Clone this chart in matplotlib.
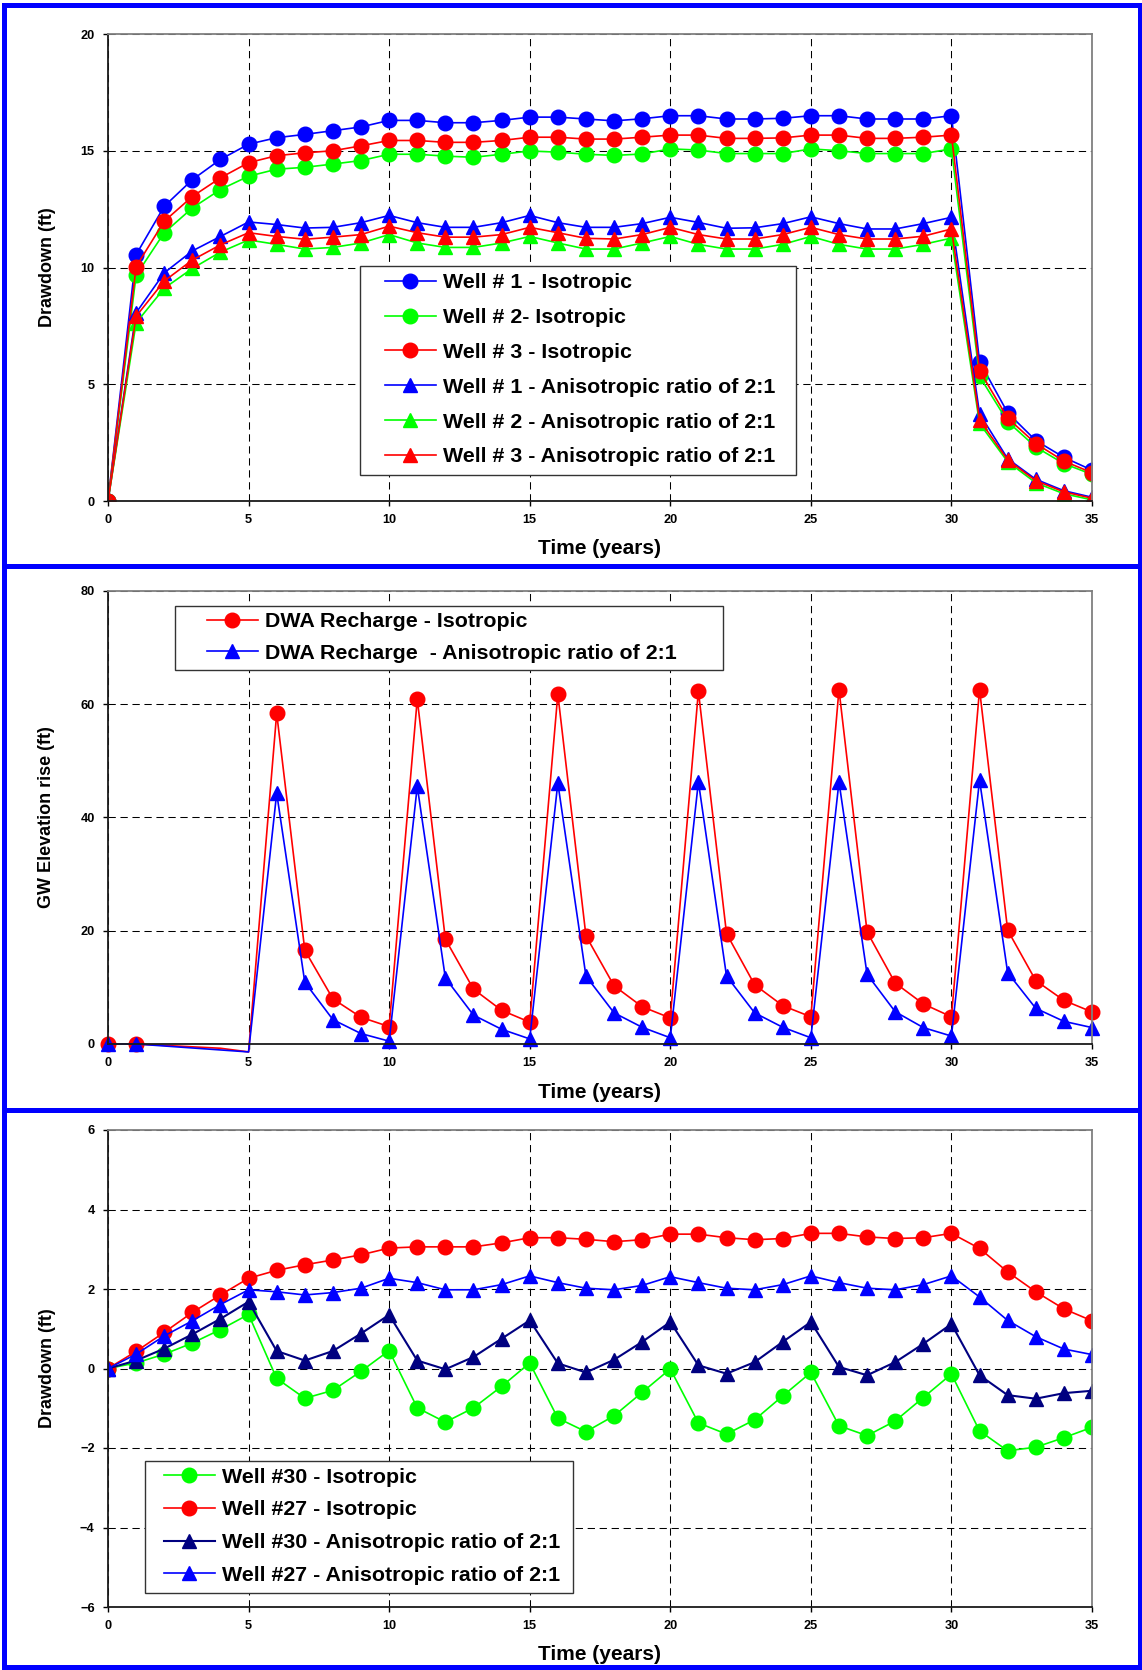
import matplotlib
matplotlib.use("Agg")
import matplotlib.pyplot as plt
import numpy as np
from matplotlib.patches import Rectangle
from matplotlib.lines import Line2D

plt.rcParams['font.family'] = ['Liberation Sans', 'DejaVu Sans']
plt.rcParams['font.weight'] = 'bold'

# ---- data ----
years = np.arange(0, 36)

# panel 1 - drawdown at wells 1-3
w1_iso = [0, 10.55, 12.62, 13.76, 14.63, 15.28, 15.56, 15.70, 15.86, 16.02, 16.30, 16.30,
          16.20, 16.20, 16.30, 16.44, 16.44, 16.36, 16.28, 16.37, 16.50, 16.50, 16.36, 16.36,
          16.39, 16.50, 16.50, 16.36, 16.36, 16.36, 16.50, 5.97, 3.78, 2.59, 1.87, 1.32]
w2_iso = [0, 9.67, 11.49, 12.55, 13.34, 13.91, 14.21, 14.29, 14.43, 14.58, 14.85, 14.85,
          14.77, 14.72, 14.85, 14.99, 14.94, 14.85, 14.80, 14.86, 15.08, 15.03, 14.88, 14.88,
          14.88, 15.08, 15.00, 14.88, 14.88, 14.88, 15.08, 5.34, 3.40, 2.31, 1.60, 1.14]
w3_iso = [0, 10.04, 11.98, 13.04, 13.84, 14.49, 14.79, 14.91, 15.00, 15.21, 15.44, 15.44,
          15.36, 15.36, 15.44, 15.58, 15.58, 15.50, 15.50, 15.58, 15.67, 15.67, 15.53, 15.53,
          15.55, 15.67, 15.67, 15.53, 15.53, 15.58, 15.67, 5.58, 3.55, 2.46, 1.71, 1.21]
w1_ani = [0, 8.06, 9.77, 10.71, 11.33, 11.95, 11.84, 11.69, 11.72, 11.92, 12.23, 11.92,
          11.72, 11.72, 11.92, 12.23, 11.92, 11.72, 11.72, 11.88, 12.15, 11.93, 11.68, 11.70,
          11.88, 12.17, 11.88, 11.65, 11.65, 11.88, 12.15, 3.74, 1.81, 0.93, 0.44, 0.16]
w2_ani = [0, 7.63, 9.11, 9.96, 10.66, 11.18, 10.99, 10.79, 10.86, 11.05, 11.41, 11.05,
          10.86, 10.86, 11.05, 11.33, 11.05, 10.79, 10.79, 11.05, 11.33, 10.99, 10.79, 10.79,
          10.99, 11.33, 10.99, 10.79, 10.79, 10.99, 11.26, 3.32, 1.68, 0.78, 0.31, 0.05]
w3_ani = [0, 7.91, 9.42, 10.32, 10.97, 11.49, 11.33, 11.21, 11.30, 11.41, 11.77, 11.49,
          11.30, 11.30, 11.41, 11.72, 11.49, 11.25, 11.22, 11.41, 11.72, 11.41, 11.22, 11.22,
          11.41, 11.72, 11.41, 11.22, 11.22, 11.34, 11.65, 3.47, 1.76, 0.87, 0.39, 0.12]

# panel 2 - GW elevation rise from DWA recharge
dwa_iso = [0, 0, -0.25, -0.5, -0.75, -1.4, 58.4, 16.55, 7.97, 4.72, 3.07, 60.9, 18.5, 9.69,
           5.95, 3.86, 61.8, 19.1, 10.28, 6.58, 4.6, 62.3, 19.5, 10.46, 6.77, 4.8, 62.6, 19.8,
           10.77, 7.08, 4.8, 62.6, 20.1, 11.2, 7.7, 5.66]
dwa_ani = [0, 0, -0.35, -0.7, -1.05, -1.4, 44.3, 10.9, 4.3, 1.84, 0.5, 45.5, 11.65, 5.1,
           2.6, 0.9, 46.1, 12.0, 5.5, 2.95, 1.1, 46.3, 12.0, 5.5, 2.95, 1.1, 46.3, 12.3,
           5.7, 2.9, 1.4, 46.6, 12.6, 6.3, 4.0, 2.9]

# panel 3 - drawdown at wells 30 and 27
w30_iso = [0, 0.14, 0.36, 0.64, 0.98, 1.36, -0.25, -0.75, -0.55, -0.07, 0.45, -0.99, -1.35,
           -0.99, -0.45, 0.14, -1.25, -1.59, -1.19, -0.6, -0.01, -1.37, -1.65, -1.29, -0.69,
           -0.10, -1.44, -1.69, -1.32, -0.73, -0.14, -1.57, -2.07, -1.98, -1.74, -1.48]
w27_iso = [0, 0.43, 0.91, 1.41, 1.85, 2.27, 2.47, 2.61, 2.73, 2.86, 3.03, 3.06, 3.06, 3.06,
           3.16, 3.29, 3.29, 3.25, 3.19, 3.24, 3.38, 3.38, 3.29, 3.24, 3.27, 3.40, 3.40, 3.31,
           3.27, 3.29, 3.40, 3.02, 2.43, 1.93, 1.50, 1.20]
w30_ani = [0, 0.2, 0.5, 0.86, 1.25, 1.68, 0.44, 0.2, 0.44, 0.88, 1.35, 0.2, -0.02, 0.29,
           0.75, 1.21, 0.13, -0.1, 0.22, 0.67, 1.17, 0.08, -0.13, 0.16, 0.67, 1.17, 0.04,
           -0.17, 0.16, 0.62, 1.12, -0.17, -0.67, -0.76, -0.62, -0.56]
w27_ani = [0, 0.36, 0.82, 1.2, 1.61, 1.98, 1.93, 1.85, 1.91, 2.02, 2.27, 2.16, 1.98, 1.98,
           2.11, 2.33, 2.16, 2.02, 1.98, 2.09, 2.31, 2.16, 2.02, 1.98, 2.11, 2.33, 2.16, 2.02,
           1.98, 2.11, 2.33, 1.80, 1.21, 0.80, 0.49, 0.35]

xticks = [0, 5, 10, 15, 20, 25, 30, 35]

BLUE = '#0000FF'
RED = '#FF0000'
GREEN = '#00FF00'
NAVY = '#000080'

W, H = 1142, 1670
fig = plt.figure(figsize=(W / 100, H / 100), dpi=100)


def make_axes(top_px, bottom_px):
    ax = fig.add_axes([108 / W, 1 - bottom_px / H, 984 / W, (bottom_px - top_px) / H])
    return ax


def style_axes(ax, ylim, yticks, ylabel, h_px):
    ax.set_xlim(0, 35)
    ax.set_ylim(*ylim)
    ax.set_xticks(xticks)
    ax.set_yticks(yticks)
    ax.tick_params(direction='out', length=3.6, width=1, labelsize=9.2, pad=6,
                   top=False, right=False)
    ax.grid(True, color='black', linewidth=0.75, linestyle=(0, (7, 4.5)))
    for s in ['left', 'bottom']:
        ax.spines[s].set_color('#1a1a1a')
        ax.spines[s].set_linewidth(1.3)
    for s in ['top', 'right']:
        ax.spines[s].set_color('#808080')
        ax.spines[s].set_linewidth(1.3)
    ax.set_xlabel('Time (years)', fontsize=15, fontweight='bold', va='center')
    ax.xaxis.set_label_coords(0.5, -48 / h_px)
    ax.set_ylabel(ylabel, fontsize=13, fontweight='bold', va='center')
    ax.yaxis.set_label_coords(-61 / 984, 0.5)


def add_legend(ax, anchor, box, spacing):
    leg = ax.legend(loc='upper left', bbox_to_anchor=anchor, frameon=False,
                    borderpad=0, borderaxespad=0, handlelength=2.4, handletextpad=0.32,
                    labelspacing=spacing, prop={'weight': 'bold', 'size': 15.4})
    leg.set_zorder(6)
    x0, y0, x1, y1 = box
    ax.add_patch(Rectangle((x0, y0), x1 - x0, y1 - y0, transform=ax.transAxes,
                           facecolor='white', edgecolor='#333333', linewidth=1, zorder=5))


line_kw = dict(linewidth=1.2, markersize=10.5)

# ---- panel 1 ----
ax1 = make_axes(34, 501)
ax1.plot(years, w1_iso, color=BLUE, marker='o', label='Well # 1 - Isotropic', **line_kw)
ax1.plot(years, w2_iso, color=GREEN, marker='o', label='Well # 2- Isotropic', **line_kw)
ax1.plot(years, w3_iso, color=RED, marker='o', label='Well # 3 - Isotropic', **line_kw)
ax1.plot(years, w1_ani, color=BLUE, marker='^', label='Well # 1 - Anisotropic ratio of 2:1', **line_kw)
ax1.plot(years, w2_ani, color=GREEN, marker='^', label='Well # 2 - Anisotropic ratio of 2:1', **line_kw)
ax1.plot(years, w3_ani, color=RED, marker='^', label='Well # 3 - Anisotropic ratio of 2:1', **line_kw)
style_axes(ax1, (0, 20), [0, 5, 10, 15, 20], 'Drawdown (ft)', 467)
add_legend(ax1, (0.2811, 0.4876), (0.2561, 0.0557, 0.6992, 0.5039), 0.74)

# ---- panel 2 ----
ax2 = make_axes(591, 1044)
iso_show = [i for i, v in enumerate(dwa_iso) if v >= 0]
ani_show = [i for i, v in enumerate(dwa_ani) if v >= 0]
ax2.plot(years, dwa_iso, color=RED, marker='o', markevery=iso_show, clip_on=False,
         label='DWA Recharge - Isotropic', **line_kw)
ax2.plot(years, dwa_ani, color=BLUE, marker='^', markevery=ani_show, clip_on=False,
         label='DWA Recharge  - Anisotropic ratio of 2:1', **line_kw)
style_axes(ax2, (0, 80), [0, 20, 40, 60, 80], 'GW Elevation rise (ft)', 453)
add_legend(ax2, (0.1003, 0.9533), (0.0680, 0.8249, 0.6253, 0.9669), 0.58)

# ---- panel 3 ----
ax3 = make_axes(1130, 1607)
ax3.plot(years, w30_iso, color=GREEN, marker='o', label='Well #30 - Isotropic', **line_kw)
ax3.plot(years, w27_iso, color=RED, marker='o', label='Well #27 - Isotropic', **line_kw)
ax3.plot(years, w30_ani, color=NAVY, marker='^', label='Well #30 - Anisotropic ratio of 2:1',
         linewidth=1.5, markersize=10.5)
ax3.plot(years, w27_ani, color=BLUE, marker='^', label='Well #27 - Anisotropic ratio of 2:1', **line_kw)
style_axes(ax3, (-6, 6), [-6, -4, -2, 0, 2, 4, 6], 'Drawdown (ft)', 477)
add_legend(ax3, (0.0567, 0.2920), (0.0373, 0.0287, 0.4726, 0.3067), 0.64)

# ---- blue frames around the three panels ----
fig.add_artist(Rectangle((4 / W, 3 / H), 1135.5 / W, 1662 / H, transform=fig.transFigure,
                         fill=False, edgecolor=BLUE, linewidth=3.6))
for yy in [565.5, 1110]:
    fig.add_artist(Line2D([4 / W, 1139.5 / W], [1 - yy / H, 1 - yy / H],
                          transform=fig.transFigure, color=BLUE, linewidth=3.6))

fig.savefig('out.png', dpi=100)
